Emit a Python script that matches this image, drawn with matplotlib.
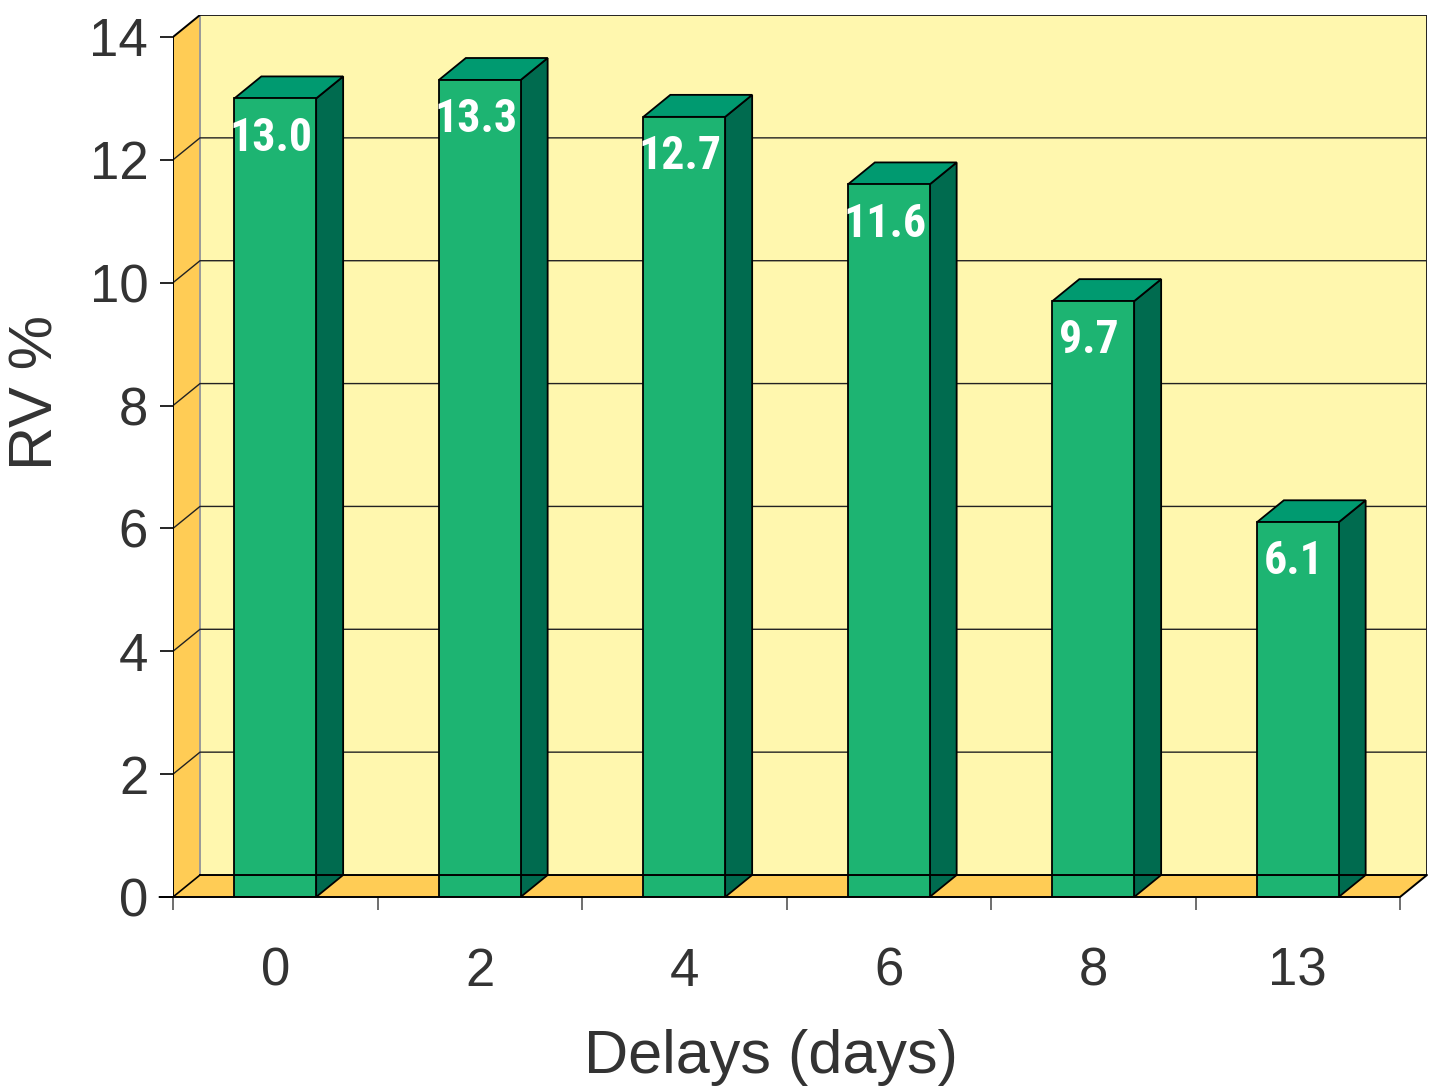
# 3D-style bar chart: RV % by delay (days)
import matplotlib
matplotlib.use("Agg")
import matplotlib.pyplot as plt
from matplotlib.patches import Polygon

# data
categories = ["0", "2", "4", "6", "8", "13"]
rv_values = [13.0, 13.3, 12.7, 11.6, 9.7, 6.1]
y_ticks = [0, 2, 4, 6, 8, 10, 12, 14]

# look
DX, DY = 0.132, 0.358        # depth offset in data units
BAR_L, BAR_R = 0.30, 0.70    # bar front face within each category slot
FRONT = "#1DB472"
SIDE = "#006B4F"
TOP = "#009A70"
WALL = "#FFF7AE"
FLOOR = "#FFCC55"
TEXT = "#333333"

plt.rcParams["font.family"] = ["Liberation Sans", "DejaVu Sans"]

fig = plt.figure(figsize=(14.32, 10.91), dpi=100)
ax = fig.add_axes([173 / 1432, (1091 - 897) / 1091, 1254 / 1432, 882 / 1091])
n = len(categories)
ymax = y_ticks[-1]
ax.set_xlim(0, n + DX)
ax.set_ylim(0, ymax + DY)
for s in ax.spines.values():
    s.set_visible(False)

# back wall
ax.add_patch(Polygon([(DX, DY), (n + DX, DY), (n + DX, ymax + DY), (DX, ymax + DY)],
                     closed=True, facecolor=WALL, edgecolor="none", zorder=1))
ax.plot([DX, n + DX, n + DX], [ymax + DY, ymax + DY, DY], color="#222222", lw=1.4, zorder=2)
ax.plot([DX, DX], [DY, ymax + DY], color="#999999", lw=1.4, zorder=2)

# left wall
ax.add_patch(Polygon([(0, 0), (DX, DY), (DX, ymax + DY), (0, ymax)], closed=True,
                     facecolor=FLOOR, edgecolor="none", zorder=1))
ax.plot([DX, 0, 0], [ymax + DY, ymax, 0], color="black", lw=1.4, zorder=3)

# floor
ax.add_patch(Polygon([(0, 0), (n, 0), (n + DX, DY), (DX, DY)], closed=True,
                     facecolor=FLOOR, edgecolor="none", zorder=1))
ax.plot([DX, n + DX, n, -0.065], [DY, DY, 0, 0], color="black", lw=1.4, zorder=6,
        clip_on=False)
ax.plot([0, DX], [0, DY], color="black", lw=1.2, zorder=3)

# gridlines across left wall and back wall
for v in y_ticks[1:-1]:
    ax.plot([0, DX, n + DX], [v, v + DY, v + DY], color="#222222", lw=1.0, zorder=2)

# bars
for i, v in enumerate(rv_values):
    l, r = i + BAR_L, i + BAR_R
    ax.add_patch(Polygon([(r, 0), (r + DX, DY), (r + DX, v + DY), (r, v)], closed=True,
                         facecolor=SIDE, edgecolor="black", lw=1.3, zorder=4))
    ax.add_patch(Polygon([(l, v), (r, v), (r + DX, v + DY), (l + DX, v + DY)], closed=True,
                         facecolor=TOP, edgecolor="black", lw=1.3, zorder=4))
    ax.add_patch(Polygon([(l, 0), (r, 0), (r, v), (l, v)], closed=True,
                         facecolor=FRONT, edgecolor="black", lw=1.3, zorder=5))
    ax.text(i + 0.48, v - 0.85, f"{v:.1f}", ha="center", va="baseline", color="white",
            fontsize=33, fontweight="bold", zorder=7,
            family=["Liberation Sans Narrow", "Roboto Condensed", "Roboto", "DejaVu Sans"])

# axes ticks
ax.set_xticks(range(n + 1))
ax.set_xticklabels([])
ax.set_xticks([i + 0.5 for i in range(n)], minor=True)
ax.set_xticklabels(categories, minor=True)
ax.tick_params(axis="x", which="major", direction="out", length=9.4, width=1.2,
               color="#555555")
ax.tick_params(axis="x", which="minor", length=0, pad=36, labelsize=38,
               labelcolor=TEXT)
ax.set_yticks(y_ticks)
ax.set_yticklabels([str(t) for t in y_ticks])
ax.tick_params(axis="y", direction="out", length=9.4, width=1.2, color="black",
               pad=8.5, labelsize=38, labelcolor=TEXT)

fig.text(37 / 1432, 1 - 392 / 1091, "RV %", rotation=90, ha="center", va="center",
         fontsize=44, color=TEXT)
fig.text(771 / 1432, 1 - 1073 / 1091, "Delays (days)", ha="center", va="baseline",
         fontsize=44, color=TEXT)

fig.savefig("out.png", dpi=100)
